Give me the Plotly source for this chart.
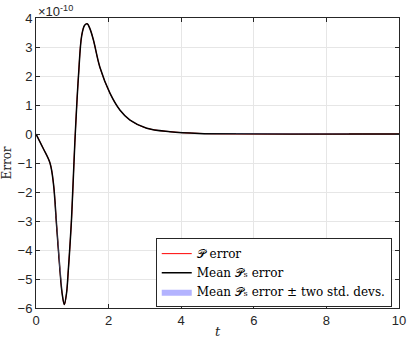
import plotly.graph_objects as go

# time samples and errors (in units of 1e-10)
t = [0.0, 0.2, 0.385, 0.48, 0.57, 0.66, 0.72, 0.78, 0.84, 0.89, 0.98, 1.07, 1.17, 1.26,
     1.34, 1.41, 1.48, 1.58, 1.76, 2.04, 2.31, 2.59, 3.05, 3.69, 4.5, 5.5, 7.0, 10.0]
p_err = [0.0, -0.5, -1.0, -1.7, -3.2, -4.7, -5.5, -5.88, -5.5, -4.7, -2.9, -0.3, 2.0, 3.4,
         3.75, 3.8, 3.65, 3.25, 2.3, 1.4, 0.83, 0.48, 0.2, 0.08, 0.02, 0.005, 0.0, 0.0]
mean_ps_err = list(p_err)
two_std = [0.0] * len(t)

upper = [m + s for m, s in zip(mean_ps_err, two_std)]
lower = [m - s for m, s in zip(mean_ps_err, two_std)]

serif = "DejaVu Serif"
sans = "Liberation Sans"

fig = go.Figure()
fig.add_trace(go.Scatter(x=t, y=p_err, mode='lines', name='𝒫 error',
                         line=dict(color='red', width=1, shape='spline')))
fig.add_trace(go.Scatter(x=t, y=mean_ps_err, mode='lines', name='Mean 𝒫ₛ error',
                         line=dict(color='black', width=1.5, shape='spline')))
fig.add_trace(go.Scatter(x=t + t[::-1], y=upper + lower[::-1], mode='lines', fill='toself',
                         fillcolor='rgba(179,179,255,1)', line=dict(width=0, color='rgba(0,0,0,0)'),
                         name='Mean 𝒫ₛ error ± two std. devs.'))

axis_common = dict(showline=True, linecolor='#262626', linewidth=1, mirror='ticks',
                   ticks='inside', ticklen=4, tickcolor='#262626', showgrid=True,
                   gridcolor='#e6e6e6', zeroline=False, automargin=False,
                   tickfont=dict(family=sans, size=13, color='#262626'))

fig.update_xaxes(range=[0, 10], tickvals=[0, 2, 4, 6, 8, 10],
                 title=dict(text='<i>t</i>', font=dict(family=serif, size=13, color='#262626'),
                            standoff=0),
                 **axis_common)
fig.update_yaxes(range=[-6, 4], tickvals=list(range(-6, 5)),
                 title=dict(text='Error', font=dict(family=serif, size=12, color='#262626'),
                            standoff=3),
                 **axis_common)

fig.add_annotation(text='×10<sup>-10</sup>', xref='paper', yref='paper', x=0, y=1,
                   xanchor='left', yanchor='bottom', showarrow=False, yshift=-3,
                   font=dict(family=sans, size=13, color='#262626'))

fig.update_layout(
    width=407, height=341,
    margin=dict(l=36, r=8, t=18, b=33),
    plot_bgcolor='white', paper_bgcolor='white',
    showlegend=True,
    legend=dict(x=0.98, y=0.003, xanchor='right', yanchor='bottom',
                bgcolor='white', bordercolor='#262626', borderwidth=1,
                font=dict(family=serif, size=12, color='black'),
                tracegroupgap=0, itemwidth=30),
)

fig.write_html("out.html", config={'displayModeBar': False},
               post_script="document.body.style.margin='0';")
